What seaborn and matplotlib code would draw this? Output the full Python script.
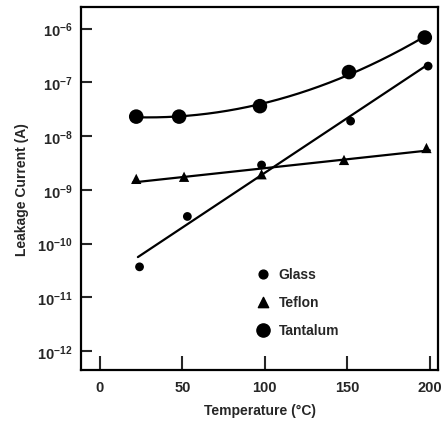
import numpy as np
import pandas as pd
import matplotlib
matplotlib.use("Agg")
import matplotlib.pyplot as plt
import seaborn as sns
from matplotlib.ticker import FixedLocator

sns.set_theme(style="ticks")
plt.rcParams['font.family'] = ['Liberation Sans', 'DejaVu Sans']
plt.rcParams['mathtext.fontset'] = 'custom'
plt.rcParams['mathtext.rm'] = 'Liberation Sans:bold'
plt.rcParams['mathtext.it'] = 'Liberation Sans:bold'
plt.rcParams['mathtext.bf'] = 'Liberation Sans:bold'

# Data (temperature in °C, current in A)
glass_t = [24, 53, 98, 152, 199]
glass_i = [3.7e-11, 3.2e-10, 2.9e-9, 1.9e-8, 2.0e-7]
teflon_t = [22, 51, 98, 148, 198]
teflon_i = [1.6e-9, 1.75e-9, 1.95e-9, 3.6e-9, 6.0e-9]
tantalum_t = [22, 48, 97, 151, 197]
tantalum_i = [2.3e-8, 2.3e-8, 3.6e-8, 1.55e-7, 6.8e-7]

x_ticks = [0, 50, 100, 150, 200]
y_ticks = [1e-12, 1e-11, 1e-10, 1e-9, 1e-8, 1e-7, 1e-6]

df = pd.concat([
    pd.DataFrame({"T": glass_t, "I": glass_i, "Material": "Glass"}),
    pd.DataFrame({"T": teflon_t, "I": teflon_i, "Material": "Teflon"}),
    pd.DataFrame({"T": tantalum_t, "I": tantalum_i, "Material": "Tantalum"}),
], ignore_index=True)

fig = plt.figure(figsize=(4.41, 4.27), dpi=100)
ax = fig.add_axes([81/441, 1 - 371/427, (438 - 81)/441, (371 - 8)/427])
ax.set_yscale("log")

# fitted curves (in log space)
def fit_curve(t, i, deg, t0, t1):
    c = np.polyfit(t, np.log10(i), deg)
    tt = np.linspace(t0, t1, 200)
    return tt, 10 ** np.polyval(c, tt)

tt, yy = fit_curve(glass_t, glass_i, 1, 23, 199)
sns.lineplot(x=tt, y=yy, ax=ax, color="black", lw=1.6, legend=False)
tt, yy = fit_curve(teflon_t, teflon_i, 1, 20, 200)
sns.lineplot(x=tt, y=yy, ax=ax, color="black", lw=1.6, legend=False)
tt, yy = fit_curve(tantalum_t, tantalum_i, 2, 22, 197)
sns.lineplot(x=tt, y=yy, ax=ax, color="black", lw=1.6, legend=False)

sns.scatterplot(data=df, x="T", y="I", style="Material", size="Material",
                markers={"Glass": "o", "Teflon": "^", "Tantalum": "o"},
                sizes={"Glass": 40, "Teflon": 55, "Tantalum": 110},
                color="black", edgecolor="black", linewidth=0, ax=ax, legend=False,
                zorder=3)

# Legend, drawn manually to match the reference
leg_items = [("Glass", "o", 40), ("Teflon", "^", 55), ("Tantalum", "o", 90)]
for k, (lab, m, s) in enumerate(leg_items):
    yk = 0.264 - k * 0.077
    ax.scatter([0.51], [yk], marker=m, s=s, color="black", transform=ax.transAxes, clip_on=False)
    ax.text(0.553, yk, lab, transform=ax.transAxes, va="center", ha="left",
            fontsize=10, fontweight="bold")

ax.set_xlim(-11.5, 205)
ax.set_ylim(10 ** -12.35, 10 ** -5.6)
ax.xaxis.set_major_locator(FixedLocator(x_ticks))
ax.yaxis.set_major_locator(FixedLocator(y_ticks))
ax.yaxis.set_minor_locator(FixedLocator([]))
ax.tick_params(axis="both", direction="in", length=8, width=1.5, labelsize=10.5)
ax.tick_params(axis="x", length=10, pad=7)
ax.tick_params(axis="y", pad=6)
for lab in ax.get_xticklabels() + ax.get_yticklabels():
    lab.set_fontweight("bold")
for sp in ax.spines.values():
    sp.set_linewidth(1.6)
    sp.set_color("black")

ax.set_xlabel("Temperature (°C)", fontsize=10, fontweight="bold", labelpad=7)
ax.set_ylabel("Leakage Current (A)", fontsize=10, fontweight="bold", labelpad=6)

fig.savefig("out.png", dpi=100)
